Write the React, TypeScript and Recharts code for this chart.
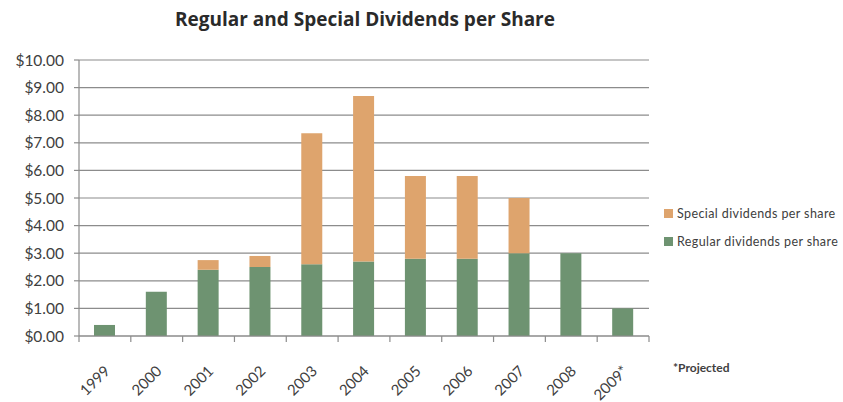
import { BarChart, Bar, XAxis, YAxis, CartesianGrid } from "recharts";

const years = ["1999", "2000", "2001", "2002", "2003", "2004", "2005", "2006", "2007", "2008", "2009*"];
const regular = [0.4, 1.6, 2.4, 2.5, 2.6, 2.7, 2.8, 2.8, 3.0, 3.0, 1.0];
const special = [0, 0, 0.35, 0.4, 4.75, 6.0, 3.0, 3.0, 2.0, 0, 0];
const yTicks = [0, 1, 2, 3, 4, 5, 6, 7, 8, 9, 10];

const GREEN = "#6e9371";
const ORANGE = "#dea46d";
const GRID = "#8c8c8c";
const TEXT = "#404040";

const W = 843;
const H = 402;
const MARGIN = { top: 60, right: 194, bottom: 0, left: 9 };
const Y_AXIS_W = 70;
const PLOT_W = W - MARGIN.left - MARGIN.right - Y_AXIS_W;
const BAND = PLOT_W / years.length;

const data = years.map((y, i) => ({ year: y, regular: regular[i], special: special[i] }));

const legendItems = [
  { label: "Special dividends per share", color: ORANGE },
  { label: "Regular dividends per share", color: GREEN },
];

function YearTick(props: any) {
  const { x, y, payload, index } = props;
  const left = x - BAND / 2;
  const right = x + BAND / 2;
  const ax = x + 6;
  const ay = y + 36;
  return (
    <g>
      <line x1={left} y1={y} x2={left} y2={y + 6} stroke={GRID} strokeWidth={1.2} />
      {index === years.length - 1 && (
        <line x1={right} y1={y} x2={right} y2={y + 6} stroke={GRID} strokeWidth={1.2} />
      )}
      <text
        x={ax}
        y={ay}
        transform={`rotate(-45, ${ax}, ${ay})`}
        textAnchor="end"
        fontSize={15}
        fill={TEXT}
        fontFamily="Lato"
      >
        {payload.value}
      </text>
    </g>
  );
}

export default function App() {
  return (
    <div style={{ position: "absolute", left: 0, top: 0, width: W, height: H, background: "#fff" }}>
      <div
        style={{
          position: "absolute",
          top: 6,
          left: 0,
          width: 730,
          textAlign: "center",
          fontFamily: "Open Sans",
          fontWeight: 700,
          fontSize: 19,
          color: "#2a2a2a",
        }}
      >
        Regular and Special Dividends per Share
      </div>
      <div style={{ position: "absolute", left: 664, top: 199, fontFamily: "Lato", fontSize: 12.5, color: TEXT }}>
        {legendItems.map((it) => (
          <div key={it.label} style={{ display: "flex", alignItems: "center", height: 28 }}>
            <span style={{ width: 9, height: 9, background: it.color, marginRight: 4 }} />
            <span style={{ letterSpacing: 0.4 }}>{it.label}</span>
          </div>
        ))}
      </div>
      <div
        style={{
          position: "absolute",
          left: 673,
          top: 360,
          fontFamily: "Lato",
          fontWeight: 700,
          fontSize: 12,
          color: TEXT,
        }}
      >
        *Projected
      </div>
      <BarChart width={W} height={H} data={data} margin={MARGIN} barSize={21}>
        <CartesianGrid horizontal vertical={false} stroke={GRID} strokeWidth={1.2} />
        <XAxis
          dataKey="year"
          height={66}
          interval={0}
          tickSize={0}
          tickMargin={0}
          tickLine={false}
          axisLine={{ stroke: GRID, strokeWidth: 1.2 }}
          tick={<YearTick />}
        />
        <YAxis
          width={Y_AXIS_W}
          domain={[0, 10]}
          ticks={yTicks}
          interval={0}
          tickSize={5}
          tickMargin={10}
          tickLine={{ stroke: GRID, strokeWidth: 1.2 }}
          axisLine={{ stroke: GRID, strokeWidth: 1.2 }}
          tick={{ fill: TEXT, fontSize: 15.5, fontFamily: "Lato" }}
          tickFormatter={(v) => `$${Number(v).toFixed(2)}`}
        />
        <Bar dataKey="regular" stackId="a" fill={GREEN} isAnimationActive={false} />
        <Bar dataKey="special" stackId="a" fill={ORANGE} isAnimationActive={false} />
      </BarChart>
    </div>
  );
}
